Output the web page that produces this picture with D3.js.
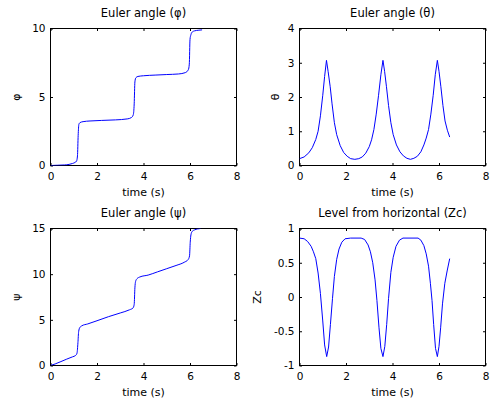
<!DOCTYPE html>
<html>
<head>
<meta charset="utf-8">
<script src="https://cdn.jsdelivr.net/npm/d3@7"></script>
<style>
  html, body { margin: 0; padding: 0; background: #fff; }
  svg text { font-family: "DejaVu Sans", sans-serif; fill: #000; }
  .tick text { font-size: 10.5px; }
  .tick line { stroke: #000; }
</style>
</head>
<body>
<svg id="fig" width="491" height="403"></svg>
<script>
// --- data ---
const phiTime = [0, 0.3, 0.6, 0.8, 0.95, 1.05, 1.12, 1.16, 1.19, 1.22, 1.27, 1.4, 1.7, 2.2, 2.8, 3.3, 3.48, 3.56, 3.6, 3.63, 3.67, 3.76, 4.0, 4.5, 5.0, 5.5, 5.8, 5.93, 5.97, 6.0, 6.04, 6.1, 6.2, 6.35, 6.52];
const phiValues = [0, 0.02, 0.04, 0.08, 0.15, 0.22, 0.32, 0.7, 2.2, 3.0, 3.13, 3.2, 3.25, 3.29, 3.33, 3.4, 3.5, 3.7, 4.5, 6.1, 6.4, 6.5, 6.55, 6.6, 6.64, 6.68, 6.78, 7.0, 7.4, 9.2, 9.55, 9.75, 9.83, 9.87, 9.9];

const thetaTime = [0, 0.2, 0.4, 0.55, 0.7, 0.8, 0.9, 1.0, 1.08, 1.16, 1.23, 1.32, 1.4, 1.5, 1.6, 1.75, 1.9, 2.05, 2.2, 2.38, 2.55, 2.7, 2.85, 3.0, 3.1, 3.2, 3.3, 3.4, 3.5, 3.59, 3.66, 3.74, 3.83, 3.93, 4.03, 4.17, 4.32, 4.47, 4.62, 4.77, 4.92, 5.07, 5.22, 5.35, 5.45, 5.55, 5.65, 5.75, 5.84, 5.93, 6.0, 6.08, 6.17, 6.26, 6.36, 6.46];
const thetaValues = [0.2, 0.25, 0.37, 0.52, 0.76, 1.0, 1.45, 2.05, 2.6, 3.07, 2.75, 2.3, 1.8, 1.25, 0.9, 0.58, 0.38, 0.27, 0.2, 0.18, 0.2, 0.25, 0.36, 0.55, 0.75, 1.05, 1.5, 2.05, 2.65, 3.07, 2.75, 2.3, 1.75, 1.25, 0.9, 0.6, 0.4, 0.28, 0.21, 0.18, 0.21, 0.27, 0.4, 0.6, 0.8, 1.05, 1.5, 2.05, 2.65, 3.07, 2.75, 2.3, 1.75, 1.3, 1.03, 0.83];

const psiTime = [0, 0.2, 0.45, 0.7, 0.95, 1.08, 1.14, 1.18, 1.21, 1.26, 1.35, 1.6, 2.0, 2.5, 3.0, 3.4, 3.55, 3.6, 3.63, 3.66, 3.72, 3.85, 4.2, 4.6, 5.0, 5.4, 5.75, 5.92, 5.98, 6.01, 6.04, 6.1, 6.2, 6.32, 6.45];
const psiValues = [0, 0.17, 0.43, 0.7, 0.95, 1.1, 1.35, 2.5, 3.7, 4.15, 4.35, 4.55, 4.9, 5.35, 5.75, 6.1, 6.3, 6.7, 8.5, 9.2, 9.5, 9.7, 9.9, 10.25, 10.6, 10.95, 11.3, 11.6, 12.0, 13.5, 14.3, 14.7, 14.85, 14.95, 15.0];

const zcTime = [0, 0.2, 0.35, 0.5, 0.6, 0.7, 0.8, 0.9, 1.0, 1.08, 1.17, 1.25, 1.33, 1.42, 1.5, 1.6, 1.7, 1.82, 1.96, 2.2, 2.65, 2.8, 2.95, 3.05, 3.15, 3.25, 3.33, 3.42, 3.5, 3.59, 3.67, 3.75, 3.83, 3.93, 4.03, 4.15, 4.3, 4.45, 5.1, 5.22, 5.35, 5.45, 5.55, 5.63, 5.7, 5.77, 5.85, 5.93, 6.0, 6.07, 6.15, 6.25, 6.35, 6.46];
const zcValues = [0.86, 0.85, 0.81, 0.74, 0.66, 0.56, 0.35, 0.05, -0.35, -0.7, -0.87, -0.73, -0.4, -0.02, 0.3, 0.55, 0.7, 0.8, 0.85, 0.86, 0.86, 0.84, 0.76, 0.66, 0.5, 0.25, -0.05, -0.45, -0.75, -0.87, -0.72, -0.4, -0.02, 0.36, 0.58, 0.74, 0.83, 0.86, 0.86, 0.83, 0.75, 0.63, 0.45, 0.2, -0.05, -0.4, -0.75, -0.87, -0.72, -0.45, -0.1, 0.2, 0.38, 0.56];

const timeTicks = [0, 2, 4, 6, 8];
const phiTicks = [0, 5, 10];
const thetaTicks = [0, 1, 2, 3, 4];
const psiTicks = [0, 5, 10, 15];
const zcTicks = [-1, -0.5, 0, 0.5, 1];

const panels = [
  { title: 'Euler angle (\u03c6)', ylabel: '\u03c6', t: phiTime, v: phiValues, yDomain: [0, 10], yTicks: phiTicks,
    left: 50.5, top: 28.5, labelX: 19.5, curve: d3.curveMonotoneX },
  { title: 'Euler angle (\u03b8)', ylabel: '\u03b8', t: thetaTime, v: thetaValues, yDomain: [0, 4], yTicks: thetaTicks,
    left: 299.5, top: 28.5, labelX: 278.5, curve: d3.curveLinear },
  { title: 'Euler angle (\u03c8)', ylabel: '\u03c8', t: psiTime, v: psiValues, yDomain: [0, 15], yTicks: psiTicks,
    left: 50.5, top: 228.5, labelX: 19.5, curve: d3.curveMonotoneX },
  { title: 'Level from horizontal (Zc)', ylabel: 'Zc', t: zcTime, v: zcValues, yDomain: [-1, 1], yTicks: zcTicks,
    left: 299.5, top: 228.5, labelX: 260.5, curve: d3.curveLinear }
];

const W = 186;
const H = 137;
const svg = d3.select('#fig');

panels.forEach((p, i) => {
  const x = d3.scaleLinear().domain([0, 8]).range([p.left, p.left + W]);
  const y = d3.scaleLinear().domain(p.yDomain).range([p.top + H, p.top]);
  const g = svg.append('g');

  g.append('clipPath').attr('id', 'clip' + i)
    .append('rect').attr('x', p.left).attr('y', p.top).attr('width', W).attr('height', H);

  // inward ticks on all four sides, labels only on bottom/left
  g.append('g').attr('transform', `translate(0,${p.top + H})`)
    .call(d3.axisBottom(x).tickValues(timeTicks).tickSize(-2.5).tickSizeOuter(0).tickPadding(7).tickFormat(d3.format('d')));
  g.append('g').attr('transform', `translate(0,${p.top})`)
    .call(d3.axisTop(x).tickValues(timeTicks).tickSize(-2.5).tickSizeOuter(0).tickFormat(''));
  g.append('g').attr('transform', `translate(${p.left},0)`)
    .call(d3.axisLeft(y).tickValues(p.yTicks).tickSize(-2.5).tickSizeOuter(0).tickPadding(5).tickFormat(d => String(d)));
  g.append('g').attr('transform', `translate(${p.left + W},0)`)
    .call(d3.axisRight(y).tickValues(p.yTicks).tickSize(-2.5).tickSizeOuter(0).tickFormat(''));
  g.selectAll('.domain').remove();
  g.selectAll('.tick text').attr('font-family', null).attr('font-size', null);

  g.append('rect')
    .attr('x', p.left).attr('y', p.top).attr('width', W).attr('height', H)
    .attr('fill', 'none').attr('stroke', '#000').attr('shape-rendering', 'crispEdges');

  const line = d3.line()
    .x((d, k) => x(p.t[k]))
    .y(d => y(d))
    .curve(p.curve);

  g.append('path')
    .datum(p.v)
    .attr('clip-path', `url(#clip${i})`)
    .attr('fill', 'none')
    .attr('stroke', '#0000ff')
    .attr('stroke-width', 1)
    .attr('d', line);

  g.append('text')
    .attr('x', p.left + W / 2).attr('y', p.top - 11.5)
    .attr('text-anchor', 'middle').attr('font-size', 11.5)
    .text(p.title);

  g.append('text')
    .attr('x', p.left + W / 2).attr('y', p.top + H + 30)
    .attr('text-anchor', 'middle').attr('font-size', 11)
    .text('time (s)');

  g.append('text')
    .attr('transform', `translate(${p.labelX},${p.top + H / 2}) rotate(-90)`)
    .attr('text-anchor', 'middle').attr('font-size', 11)
    .text(p.ylabel);
});
</script>
</body>
</html>
